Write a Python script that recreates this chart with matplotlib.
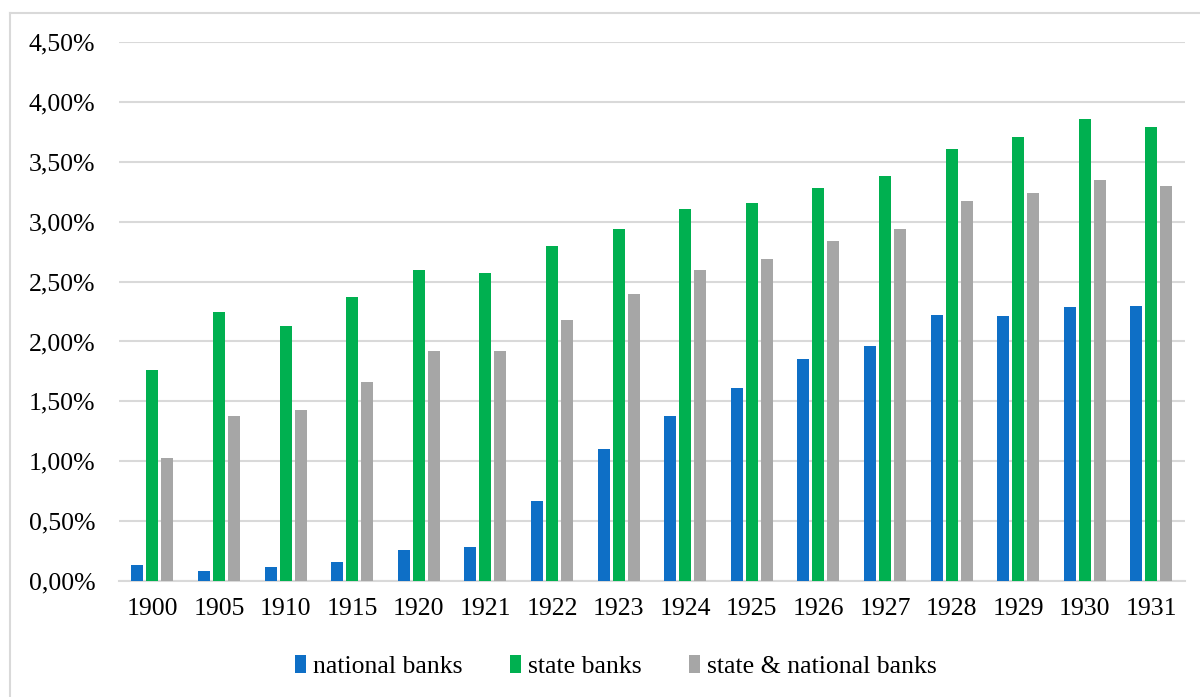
import numpy as np
import matplotlib
matplotlib.use("Agg")
import matplotlib.pyplot as plt
from matplotlib.lines import Line2D
from matplotlib.ticker import FuncFormatter

# data (percent)
years = ['1900', '1905', '1910', '1915', '1920', '1921', '1922', '1923',
         '1924', '1925', '1926', '1927', '1928', '1929', '1930', '1931']
national = [0.13, 0.08, 0.12, 0.16, 0.26, 0.28, 0.67, 1.10,
            1.38, 1.61, 1.85, 1.96, 2.22, 2.21, 2.29, 2.30]
state = [1.76, 2.25, 2.13, 2.37, 2.60, 2.57, 2.80, 2.94,
         3.11, 3.155, 3.28, 3.38, 3.61, 3.71, 3.86, 3.79]
both = [1.03, 1.38, 1.43, 1.66, 1.92, 1.92, 2.18, 2.40,
        2.60, 2.69, 2.84, 2.94, 3.17, 3.24, 3.35, 3.30]

series_names = ['national banks', 'state banks', 'state & national banks']
colors = ['#0E6FC6', '#00B050', '#A6A6A6']

plt.rcParams['font.family'] = ['Liberation Serif', 'DejaVu Serif']

fig = plt.figure(figsize=(12, 6.97), dpi=100)
ax = fig.add_axes([0.0992, 0.1664, 0.888, 0.7733])

x = np.arange(len(years))
w = 0.18
step = 0.225
for i, (vals, name, c) in enumerate(zip([national, state, both], series_names, colors)):
    ax.bar(x + (i - 1) * step, np.array(vals) / 100, width=w, color=c,
           label=name, zorder=3)

ax.set_xlim(-0.5, len(years) - 0.5)
ax.set_ylim(0, 0.045)
ax.set_yticks(np.arange(0, 0.0451, 0.005))
ax.yaxis.set_major_formatter(FuncFormatter(lambda v, p: ('%.2f%%' % (v * 100)).replace('.', ',')))
ax.set_xticks(x)
ax.set_xticklabels(years)

ax.grid(axis='y', color='#D9D9D9', linewidth=1.5, zorder=0)
for s in ['top', 'right', 'left']:
    ax.spines[s].set_visible(False)
ax.spines['bottom'].set_color('#D9D9D9')
ax.spines['bottom'].set_linewidth(1.5)
ax.tick_params(axis='both', length=0, labelsize=18.5, colors='black')
ax.tick_params(axis='y', pad=17)
ax.tick_params(axis='x', pad=12)

leg = ax.legend(loc='center', bbox_to_anchor=(0.513, 0.044), bbox_transform=fig.transFigure,
                ncol=3, frameon=False, fontsize=18.5, handlelength=0.45, handleheight=0.75,
                handletextpad=0.25, columnspacing=1.85)

# light frame around the chart area (top and left edges)
fig.add_artist(Line2D([0.0085, 1.0], [1 - 13 / 697, 1 - 13 / 697], color='#D9D9D9', linewidth=1.5))
fig.add_artist(Line2D([0.0085, 0.0085], [0, 1 - 13 / 697], color='#D9D9D9', linewidth=1.5))

fig.savefig('out.png', dpi=100)
